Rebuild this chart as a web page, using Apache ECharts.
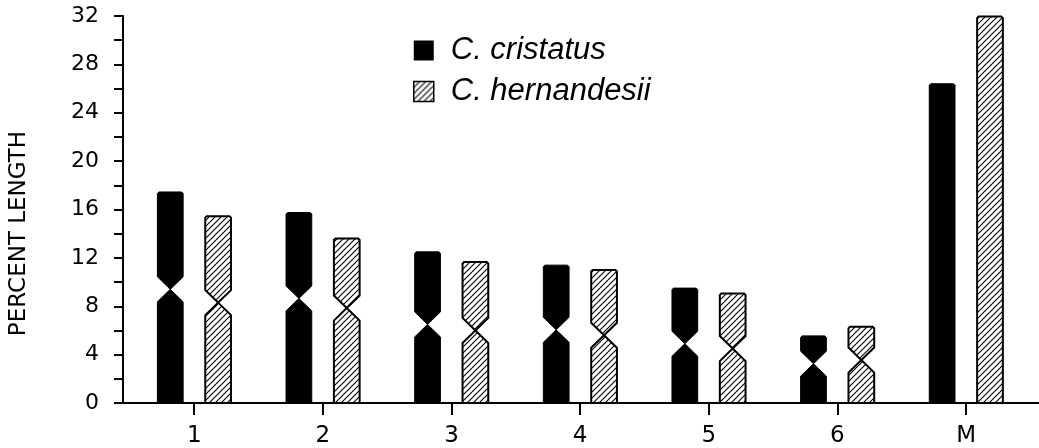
<!DOCTYPE html>
<html>
<head>
<meta charset="utf-8">
<script src="https://cdn.jsdelivr.net/npm/echarts@6/dist/echarts.min.js"></script>
<style>
html,body{margin:0;padding:0;background:#fff;}
#chart{width:1039px;height:448px;}
</style>
</head>
<body>
<div id="chart"></div>
<script>
// ---- data ----
const categories = ['1', '2', '3', '4', '5', '6', 'M'];
const cristatusLength = [17.45, 15.75, 12.5, 11.4, 9.5, 5.55, 26.4];
const cristatusCentromere = [9.4, 8.65, 6.5, 6.05, 4.9, 3.25, null];
const hernandesiiLength = [15.45, 13.6, 11.65, 11.0, 9.05, 6.3, 31.95];
const hernandesiiCentromere = [8.3, 7.85, 6.0, 5.6, 4.5, 3.55, null];
const yTickLabels = [0, 4, 8, 12, 16, 20, 24, 28, 32];
const seriesNames = ['C. cristatus', 'C. hernandesii'];

// hatch pattern
function makeHatch() {
  const s = 6;
  const c = document.createElement('canvas');
  c.width = s; c.height = s;
  const g = c.getContext('2d');
  g.fillStyle = '#fff';
  g.fillRect(0, 0, s, s);
  g.strokeStyle = '#000';
  g.lineWidth = 1.1;
  g.beginPath();
  g.moveTo(0, s); g.lineTo(s, 0);
  g.moveTo(-1, 1); g.lineTo(1, -1);
  g.moveTo(s - 1, s + 1); g.lineTo(s + 1, s - 1);
  g.stroke();
  return { image: c, repeat: 'repeat' };
}
const hatch = makeHatch();

const tickPositions = categories.map((c, i) => i + 1);

function makeData(lengths, cents) {
  return categories.map((c, i) => [i + 1, lengths[i], cents[i] == null ? '-' : cents[i]]);
}

function chromosomeRenderer(sign, fill, stroke, lw) {
  return function (params, api) {
    const x = api.value(0);
    const top = api.value(1);
    const cen = api.value(2);
    const unit = api.size([1, 0])[0];
    const base = api.coord([x, 0]);
    const cx = base[0] + sign * 0.186 * unit;
    const half = 0.1 * unit;
    const yb = base[1];
    const yt = api.coord([x, top])[1];
    const l = cx - half, r = cx + half;
    const ch = 1.5;
    let pts;
    if (isFinite(cen)) {
      const yc = api.coord([x, cen])[1];
      const n = 12.5;
      pts = [
        [l, yb], [l, yc + n], [cx, yc], [l, yc - n], [l, yt + ch], [l + ch, yt],
        [r - ch, yt], [r, yt + ch], [r, yc - n], [cx, yc], [r, yc + n], [r, yb]
      ];
    } else {
      pts = [[l, yb], [l, yt + ch], [l + ch, yt], [r - ch, yt], [r, yt + ch], [r, yb]];
    }
    return {
      type: 'polygon',
      shape: { points: pts },
      style: { fill: fill, stroke: stroke, lineWidth: lw, lineJoin: 'miter' }
    };
  };
}

const chart = echarts.init(document.getElementById('chart'), null, { renderer: 'canvas' });
chart.setOption({
  animation: false,
  backgroundColor: '#fff',
  grid: { left: 119, right: 0, top: 16, bottom: 45, containLabel: false },
  legend: {
    orient: 'vertical',
    left: 413,
    top: 35,
    padding: 0,
    itemWidth: 20,
    itemHeight: 20,
    itemGap: 10,
    selectedMode: false,
    textStyle: {
      fontFamily: 'Liberation Sans', fontStyle: 'italic', fontSize: 31,
      color: '#000', padding: [0, 0, 0, 12]
    },
    data: [
      { name: seriesNames[0], icon: 'rect', itemStyle: { color: '#000', borderWidth: 0 } },
      { name: seriesNames[1], icon: 'rect', itemStyle: { color: hatch, borderColor: '#000', borderWidth: 1.5 } }
    ]
  },
  xAxis: {
    type: 'value',
    min: 0.4466,
    max: 7.567,
    splitLine: { show: false },
    axisLine: { show: true, lineStyle: { color: '#000', width: 2 } },
    axisTick: { show: true, customValues: tickPositions, length: 12, lineStyle: { color: '#000', width: 2 } },
    axisLabel: {
      customValues: tickPositions,
      formatter: v => categories[Math.round(v) - 1],
      fontFamily: 'DejaVu Sans', fontSize: 23, color: '#000', margin: 22
    }
  },
  yAxis: {
    type: 'value',
    min: 0,
    max: 32,
    interval: 2,
    name: 'PERCENT LENGTH',
    nameLocation: 'middle',
    nameGap: 92,
    nameRotate: 90,
    nameTextStyle: { fontFamily: 'DejaVu Sans', fontSize: 23, color: '#000', padding: [0, 48, 0, 0] },
    splitLine: { show: false },
    axisLine: { show: true, lineStyle: { color: '#000', width: 2 } },
    axisTick: { show: true, length: 9, lineStyle: { color: '#000', width: 2 } },
    axisLabel: {
      customValues: yTickLabels,
      fontFamily: 'DejaVu Sans', fontSize: 22, color: '#000', margin: 24
    }
  },
  series: [
    {
      name: seriesNames[0],
      type: 'custom',
      clip: false,
      encode: { x: 0, y: 1 },
      itemStyle: { color: '#000' },
      renderItem: chromosomeRenderer(-1, '#000', '#000', 1),
      data: makeData(cristatusLength, cristatusCentromere)
    },
    {
      name: seriesNames[1],
      type: 'custom',
      clip: false,
      encode: { x: 0, y: 1 },
      itemStyle: { color: '#888' },
      renderItem: chromosomeRenderer(1, hatch, '#000', 2),
      data: makeData(hernandesiiLength, hernandesiiCentromere)
    }
  ]
});
</script>
</body>
</html>
